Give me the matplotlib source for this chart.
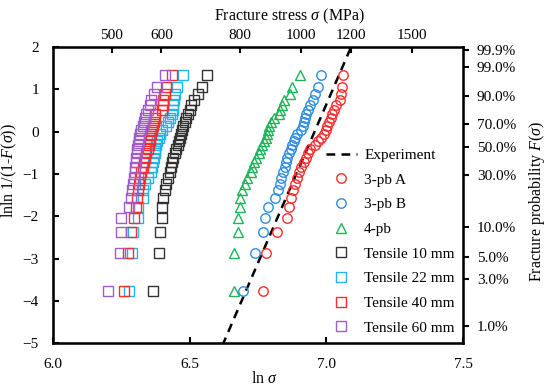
import matplotlib
matplotlib.use('Agg')
import matplotlib.pyplot as plt
import numpy as np

plt.rcParams['font.family'] = ['Liberation Serif', 'DejaVu Serif']
plt.rcParams['mathtext.fontset'] = 'custom'
plt.rcParams['mathtext.rm'] = 'Liberation Serif'
plt.rcParams['mathtext.it'] = 'Liberation Serif:italic'

# lnln 1/(1-F) levels (30 specimens per series)
levels = [-3.76, -2.86, -2.38, -2.04, -1.78, -1.57, -1.39, -1.23, -1.09, -0.96,
          -0.84, -0.72, -0.62, -0.51, -0.41, -0.32, -0.23, -0.14, -0.05, 0.04,
          0.13, 0.22, 0.32, 0.41, 0.52, 0.62, 0.75, 0.88, 1.06, 1.33]

pb3_a = [6.769, 6.778, 6.819, 6.855, 6.863, 6.869, 6.877, 6.884, 6.892, 6.901,
         6.907, 6.918, 6.926, 6.932, 6.942, 6.957, 6.970, 6.981, 6.991, 6.997,
         7.003, 7.009, 7.018, 7.022, 7.027, 7.034, 7.049, 7.055, 7.059, 7.062]
pb3_b = [6.694, 6.738, 6.768, 6.775, 6.787, 6.812, 6.823, 6.830, 6.835, 6.841,
         6.848, 6.853, 6.857, 6.864, 6.869, 6.876, 6.881, 6.887, 6.894, 6.906,
         6.913, 6.918, 6.921, 6.926, 6.934, 6.942, 6.951, 6.960, 6.970, 6.979]
pb4 = [6.662, 6.662, 6.676, 6.677, 6.683, 6.686, 6.692, 6.704, 6.711, 6.723,
       6.729, 6.735, 6.743, 6.753, 6.759, 6.765, 6.771, 6.778, 6.784, 6.787,
       6.790, 6.796, 6.810, 6.828, 6.832, 6.839, 6.847, 6.866, 6.875, 6.903]
t10 = [6.366, 6.387, 6.393, 6.400, 6.401, 6.403, 6.410, 6.415, 6.420, 6.427,
       6.432, 6.436, 6.440, 6.446, 6.452, 6.456, 6.461, 6.464, 6.468, 6.472,
       6.476, 6.482, 6.486, 6.494, 6.500, 6.506, 6.518, 6.531, 6.546, 6.562]
t22 = [6.280, 6.291, 6.294, 6.310, 6.312, 6.329, 6.330, 6.336, 6.348, 6.360,
       6.363, 6.367, 6.369, 6.372, 6.375, 6.378, 6.381, 6.387, 6.393, 6.400,
       6.414, 6.421, 6.430, 6.436, 6.440, 6.440, 6.442, 6.448, 6.454, 6.476]
t40 = [6.262, 6.275, 6.286, 6.297, 6.304, 6.308, 6.310, 6.314, 6.318, 6.324,
       6.329, 6.332, 6.338, 6.342, 6.347, 6.351, 6.354, 6.357, 6.360, 6.363,
       6.366, 6.369, 6.372, 6.375, 6.400, 6.403, 6.403, 6.409, 6.413, 6.434]
t60 = [6.202, 6.247, 6.251, 6.251, 6.277, 6.287, 6.290, 6.292, 6.296, 6.299,
       6.302, 6.303, 6.305, 6.307, 6.309, 6.312, 6.314, 6.316, 6.320, 6.324,
       6.330, 6.335, 6.338, 6.342, 6.348, 6.357, 6.360, 6.369, 6.381, 6.409]

# Weibull fit of the experiment line
exp_m = 15.0
exp_lnsigma0 = 6.957

stress_ticks = [500, 600, 800, 1000, 1200, 1500]
prob_ticks = [0.999, 0.99, 0.90, 0.70, 0.50, 0.30, 0.10, 0.05, 0.03, 0.01]

fig, ax = plt.subplots(figsize=(5.5, 3.86), dpi=100)
fig.subplots_adjust(left=0.096, right=0.842, bottom=0.111, top=0.878)

xl = np.linspace(6.0, 7.5, 200)
ax.plot(xl, exp_m * (xl - exp_lnsigma0), 'k--', lw=1.8, dashes=(3.5, 2.5), label='Experiment')

mk = dict(ls='none', mfc='none', ms=6.8, mew=1.0)
ax.plot(pb3_a, levels, marker='o', color='#FF2A2A', label='3-pb A', **mk)
ax.plot(pb3_b, levels, marker='o', color='#2E8BE0', label='3-pb B', **mk)
ax.plot(pb4, levels, marker='^', color='#1DB45A', label='4-pb', **mk)
ax.plot(t10, levels, marker='s', color='#333333', label='Tensile 10 mm', **mk)
ax.plot(t22, levels, marker='s', color='#1EB4F0', label='Tensile 22 mm', **mk)
ax.plot(t40, levels, marker='s', color='#FF2A2A', label='Tensile 40 mm', **mk)
ax.plot(t60, levels, marker='s', color='#A05CCB', label='Tensile 60 mm', **mk)

ax.set_xlim(6.0, 7.5)
ax.set_ylim(-5, 2)
ax.set_xticks([6.0, 6.5, 7.0, 7.5])
ax.set_xticklabels(['6.0', '6.5', '7.0', '7.5'])
ax.set_yticks(range(-5, 3))
ax.tick_params(direction='in', length=4, width=1.5, labelsize=11, pad=11)
ax.tick_params(axis='y', pad=10)
ax.set_xlabel(r'ln $\sigma$', fontsize=11.5)
ax.set_ylabel(r'lnln 1/(1-$F$($\sigma$))', fontsize=11.5)
ax.xaxis.set_label_coords(0.517, -0.095)
ax.yaxis.set_label_coords(-0.082, 0.584)
for s in ax.spines.values():
    s.set_linewidth(1.8)

top = ax.twiny()
top.set_xlim(ax.get_xlim())
top.set_xticks(np.log(stress_ticks))
top.set_xticklabels([str(v) for v in stress_ticks])
top.tick_params(direction='in', length=4, width=1.5, labelsize=11, pad=4)
top.set_xlabel(r'Fracture stress $\sigma$ (MPa)', fontsize=11.5)
top.xaxis.set_label_coords(0.578, 1.09)

right = ax.twinx()
right.set_ylim(ax.get_ylim())
right.set_yticks(np.log(-np.log(1 - np.array(prob_ticks))))
right.set_yticklabels([f'{p * 100:.1f}%' for p in prob_ticks])
right.tick_params(direction='out', length=4, width=1.5, labelsize=11, pad=6)
right.set_ylabel(r'Fracture probability $F$($\sigma$)', fontsize=11.5)
right.yaxis.set_label_coords(1.155, 0.48)

ax.legend(loc='lower right', bbox_to_anchor=(1.0, 0.0), frameon=False, fontsize=11,
          handlelength=2.0, handletextpad=0.5, labelspacing=0.72, borderaxespad=0.15)

fig.savefig('out.png', dpi=100)
